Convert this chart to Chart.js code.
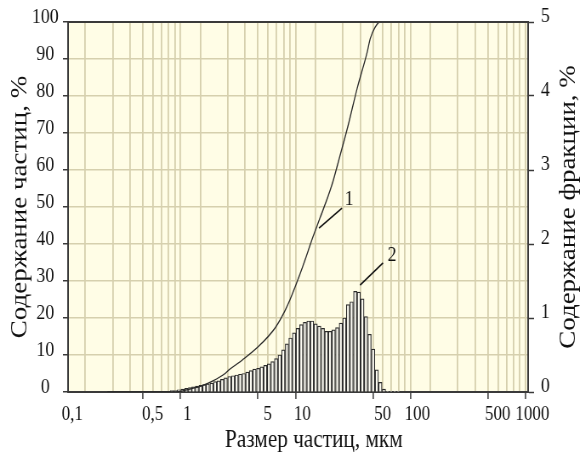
<!DOCTYPE html>
<html>
<head>
<meta charset="utf-8">
<script src="https://cdn.jsdelivr.net/npm/chart.js@4"></script>
<style>
  html, body { margin: 0; padding: 0; background: #fff; overflow: hidden; }
  /* исходный рисунок сжат по горизонтали, рисуем шире и сжимаем */
  #grafico { display: block; transform: scaleX(0.8504); transform-origin: 0 0; }
</style>
</head>
<body>
<canvas id="grafico" width="682" height="457"></canvas>
<script>
// Размер частиц (фракции гистограммы), мкм
const tamanos = [0.80, 0.86, 0.92, 0.99, 1.07, 1.15, 1.23, 1.32, 1.42, 1.53,
  1.64, 1.77, 1.90, 2.04, 2.19, 2.35, 2.53, 2.72, 2.92, 3.14,
  3.37, 3.62, 3.89, 4.18, 4.50, 4.83, 5.19, 5.58, 6.00, 6.44,
  6.92, 7.44, 8.00, 8.59, 9.23, 9.92, 10.66, 11.46, 12.31, 13.23,
  14.22, 15.28, 16.42, 17.64, 18.96, 20.37, 21.89, 23.53, 25.28, 27.17,
  29.19, 31.37, 33.71, 36.23, 38.93, 41.83, 44.95, 48.31, 51.91, 55.78,
  59.95, 64.42, 69.22, 74.39];

// Содержание фракции, % (кривая 2)
const fraccion = [0.02, 0.02, 0.03, 0.04, 0.05, 0.06, 0.07, 0.08, 0.09, 0.10,
  0.11, 0.12, 0.14, 0.15, 0.17, 0.19, 0.21, 0.22, 0.23, 0.24,
  0.25, 0.27, 0.29, 0.31, 0.32, 0.34, 0.36, 0.38, 0.41, 0.45,
  0.50, 0.57, 0.65, 0.73, 0.80, 0.86, 0.91, 0.94, 0.96, 0.96,
  0.92, 0.89, 0.86, 0.82, 0.82, 0.84, 0.87, 0.93, 1.00, 1.18,
  1.22, 1.36, 1.35, 1.26, 1.02, 0.78, 0.58, 0.30, 0.13, 0.04,
  0.01, 0.01, 0.01, 0.01];

// Интегральная кривая 1: размер, мкм / содержание частиц, %
const tamanosAcum = [0.22, 0.85, 1.08, 1.41, 1.82, 2.32, 2.56, 3.26, 4.49, 6.31,
  7.70, 8.52, 11.0, 13.5, 15.5, 19.7, 23.2, 26.7, 32.6, 40.0,
  42.4, 46.8, 51.5, 256];
const acumulado = [0, 0, 0.6, 1.5, 3.0, 5.0, 6.2, 8.6, 12.2, 17.3,
  22, 25, 34, 42, 47, 56, 64, 71, 82, 92,
  95.5, 98.6, 100, 100];

// Линии сетки и подписи оси X
const lineasX = [0.1, 0.2, 0.3, 0.4, 0.5, 0.6, 0.7, 0.8, 0.9,
  1, 2, 3, 4, 5, 6, 7, 8, 9,
  10, 20, 30, 40, 50, 60, 70, 80, 90,
  100, 200, 300, 400, 500, 600, 700, 800, 900, 1000];
const etiquetasX = [0.1, 0.5, 1, 5, 10, 50, 100, 500, 1000];

// Номера кривых с выносками
const marcas = [
  { texto: '1', en: [27.8, 51.9], desde: [24.1, 49.7], hasta: [15.2, 44.3] },
  { texto: '2', en: [65.7, 37.0], desde: [54.8, 34.9], hasta: [34.6, 28.9] }
];

const FUENTE = '"Liberation Serif", "Times New Roman", serif';
const FONDO = '#fffde6';
const REJILLA = '#d6d0ae';
const EJE = '#3a3a3a';

const pluginDibujo = {
  id: 'dibujo',
  beforeDraw(chart) {
    const a = chart.chartArea;
    const ctx = chart.ctx;
    ctx.save();
    ctx.fillStyle = FONDO;
    ctx.fillRect(a.left, a.top, a.right - a.left, a.bottom - a.top);
    ctx.restore();
  },
  afterDraw(chart) {
    const a = chart.chartArea;
    const ctx = chart.ctx;
    const sx = chart.scales.x, sy = chart.scales.y;
    ctx.save();
    // верхняя рамка
    ctx.strokeStyle = EJE;
    ctx.lineWidth = 2;
    ctx.beginPath();
    ctx.moveTo(a.left - 1, a.top);
    ctx.lineTo(a.right + 1, a.top);
    ctx.stroke();

    // выноски
    ctx.strokeStyle = '#111';
    ctx.lineWidth = 1.6;
    ctx.fillStyle = '#111';
    ctx.font = '21px ' + FUENTE;
    ctx.textAlign = 'center';
    ctx.textBaseline = 'middle';
    marcas.forEach(m => {
      ctx.beginPath();
      ctx.moveTo(sx.getPixelForValue(m.desde[0]), sy.getPixelForValue(m.desde[1]));
      ctx.lineTo(sx.getPixelForValue(m.hasta[0]), sy.getPixelForValue(m.hasta[1]));
      ctx.stroke();
      ctx.fillText(m.texto, sx.getPixelForValue(m.en[0]), sy.getPixelForValue(m.en[1]));
    });

    // подписи осей
    const cy = (a.top + a.bottom) / 2;
    ctx.font = '27px ' + FUENTE;
    ctx.textBaseline = 'alphabetic';
    ctx.save();
    ctx.translate(31, cy);
    ctx.rotate(-Math.PI / 2);
    ctx.fillText('Содержание частиц, %', 0, 0);
    ctx.restore();
    ctx.save();
    ctx.translate(676, cy);
    ctx.rotate(-Math.PI / 2);
    ctx.fillText('Содержание фракции, %', 0, 0);
    ctx.restore();
    ctx.font = '25px ' + FUENTE;
    ctx.fillText('Размер частиц, мкм', 369, 447);
    ctx.restore();
  }
};

new Chart(document.getElementById('grafico'), {
  type: 'bar',
  data: {
    datasets: [
      {
        type: 'line',
        label: '1',
        data: tamanosAcum.map((t, i) => ({ x: t, y: acumulado[i] })),
        yAxisID: 'y',
        borderColor: '#2a2a2a',
        borderWidth: 1.3,
        pointRadius: 0,
        cubicInterpolationMode: 'monotone',
        fill: false,
        order: 1
      },
      {
        label: '2',
        data: tamanos.map((t, i) => ({ x: t, y: fraccion[i] })),
        yAxisID: 'y2',
        backgroundColor: '#fcfbf2',
        borderColor: '#2a2a2a',
        borderWidth: 1.2,
        barPercentage: 1,
        categoryPercentage: 1,
        order: 2
      }
    ]
  },
  options: {
    responsive: false,
    animation: false,
    layout: { padding: { top: 22, right: 0, bottom: 0, left: 0 } },
    plugins: {
      legend: { display: false },
      tooltip: { enabled: false }
    },
    scales: {
      x: {
        type: 'logarithmic',
        min: 0.1,
        max: 1000,
        afterBuildTicks: eje => { eje.ticks = lineasX.map(v => ({ value: v })); },
        afterFit: eje => { eje.height = 65; },
        grid: {
          color: REJILLA,
          lineWidth: 1.8,
          tickLength: 7,
          tickWidth: 1.5,
          tickColor: ctx => (ctx.tick && etiquetasX.includes(ctx.tick.value)) ? EJE : 'rgba(0,0,0,0)'
        },
        border: { color: EJE, width: 2 },
        ticks: {
          autoSkip: false,
          maxRotation: 0,
          padding: 4,
          labelOffset: 5,
          color: '#111',
          font: { family: FUENTE, size: 20 },
          callback: v => etiquetasX.includes(v) ? String(v).replace('.', ',') : ''
        }
      },
      y: {
        position: 'left',
        min: 0,
        max: 100,
        afterFit: eje => { eje.width = 80; },
        grid: { color: REJILLA, lineWidth: 1.5, tickLength: 6, tickColor: EJE, tickWidth: 1.5 },
        border: { color: EJE, width: 2 },
        ticks: {
          stepSize: 10,
          padding: 5,
          labelOffset: -5,
          crossAlign: 'center',
          color: '#111',
          font: { family: FUENTE, size: 21 }
        }
      },
      y2: {
        position: 'right',
        min: 0,
        max: 5,
        afterFit: eje => { eje.width = 61; },
        grid: { drawOnChartArea: false, tickLength: 7, tickColor: EJE, tickWidth: 1.5 },
        border: { color: EJE, width: 2 },
        ticks: {
          stepSize: 1,
          padding: 8,
          labelOffset: -6,
          color: '#111',
          font: { family: FUENTE, size: 21 }
        }
      }
    }
  },
  plugins: [pluginDibujo]
});
</script>
</body>
</html>
